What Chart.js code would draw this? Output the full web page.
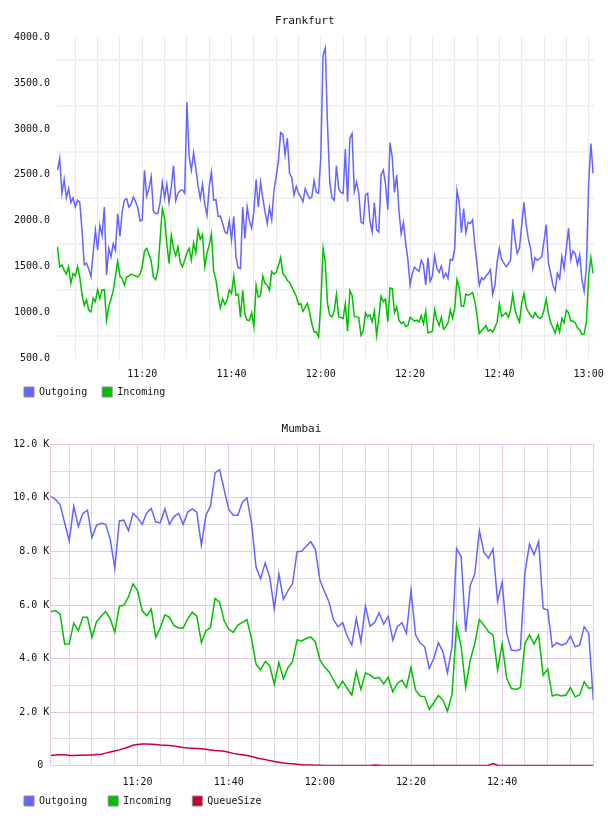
<!DOCTYPE html>
<html>
<head>
<meta charset="utf-8">
<script src="https://cdn.jsdelivr.net/npm/chart.js@4.4.1/dist/chart.umd.min.js"></script>
<style>
  html, body { margin: 0; padding: 0; background: #fff; }
  #wrap { position: relative; width: 608px; height: 816px; }
  canvas { position: absolute; left: 0; }
</style>
</head>
<body>
<div id="wrap">
  <canvas id="fra" width="608" height="407" style="top:0"></canvas>
  <canvas id="bom" width="608" height="408" style="top:408px"></canvas>
</div>
<script>
// Frankfurt: one sample every 30 s from 11:01 (minutes after 11:00)
const fraStart = 1;
const fraStep = 0.5;
const fraOutgoing = [
  2552, 2680, 2300, 2450, 2250, 2350, 2200, 2250, 2150, 2225,
  2200, 1900, 1520, 1540, 1480, 1390, 1650, 1900, 1680, 1950,
  1840, 2150, 1410, 1700, 1610, 1750, 1680, 2080, 1830, 2100,
  2225, 2240, 2150, 2180, 2260, 2210, 2140, 2000, 2010, 2550,
  2270, 2350, 2480, 2100, 2080, 2080, 2200, 2420, 2250, 2400,
  2200, 2370, 2600, 2220, 2300, 2330, 2334, 2300, 3290, 2700,
  2552, 2740, 2570, 2380, 2243, 2400, 2180, 2062, 2371, 2530,
  2225, 2230, 2050, 2050, 1971, 1880, 1860, 2000, 1790, 2050,
  1608, 1490, 1480, 2150, 1808, 2150, 2000, 1920, 2100, 2450,
  2150, 2420, 2250, 2100, 1971, 2150, 2010, 2330, 2480, 2650,
  2960, 2940, 2716, 2900, 2516, 2470, 2280, 2375, 2300, 2262,
  2207, 2350, 2290, 2243, 2260, 2440, 2310, 2298, 2700, 3800,
  3880, 3050, 2420, 2250, 2225, 2600, 2350, 2310, 2298, 2780,
  2207, 2900, 2950, 2320, 2420, 2300, 1990, 1971, 2280, 2300,
  2000, 1880, 2200, 1900, 1880, 2500, 2552, 2400, 2120, 2850,
  2690, 2310, 2500, 2120, 1860, 1980, 1760, 1580, 1300, 1430,
  1495, 1470, 1450, 1570, 1520, 1300, 1600, 1340, 1400, 1620,
  1485, 1440, 1510, 1380, 1430, 1375, 1580, 1572, 1700, 2330,
  2200, 1870, 2130, 1870, 1985, 1970, 2010, 1740, 1520, 1300,
  1380, 1360, 1400, 1427, 1470, 1200, 1300, 1550, 1700, 1580,
  1540, 1500, 1530, 1570, 2020, 1800, 1645, 1700, 1950, 2200,
  1960, 1800, 1695, 1480, 1600, 1570, 1590, 1608, 1780, 1960,
  1540, 1425, 1300, 1240, 1430, 1370, 1610, 1480, 1700, 1920,
  1580, 1670, 1640, 1520, 1630, 1360, 1235, 1500, 2400, 2840,
  2516
];
const fraIncoming = [
  1717, 1500, 1520, 1463, 1420, 1500, 1320, 1427, 1400, 1500,
  1390, 1200, 1080, 1140, 1030, 1010, 1160, 1120, 1250, 1155,
  1250, 1250, 919, 1070, 1150, 1240, 1400, 1560, 1400, 1372,
  1300, 1390, 1400, 1420, 1409, 1400, 1390, 1420, 1500, 1670,
  1700, 1640, 1560, 1390, 1360, 1460, 1800, 2130, 2030, 1753,
  1536, 1840, 1700, 1620, 1717, 1550, 1500, 1572, 1650, 1700,
  1572, 1760, 1650, 1900, 1800, 1850, 1500, 1650, 1735, 1860,
  1450, 1360, 1180, 1050, 1150, 1090, 1137, 1250, 1209, 1400,
  1190, 1200, 950, 1245, 980, 920, 915, 1000, 850, 1300,
  1170, 1185, 1400, 1318, 1300, 1245, 1450, 1420, 1440, 1510,
  1600, 1420, 1400, 1350, 1330, 1280, 1230, 1180, 1090, 1100,
  1015, 1060, 1100, 1000, 880, 790, 792, 737, 1100, 1700,
  1550, 1100, 975, 955, 1020, 1200, 955, 950, 937, 1100,
  800, 1240, 1190, 960, 955, 950, 755, 800, 1000, 955,
  980, 900, 1020, 755, 950, 1180, 1119, 1150, 900, 1270,
  1264, 1000, 1064, 920, 883, 900, 850, 860, 950, 930,
  910, 920, 900, 970, 880, 1020, 780, 790, 800, 1030,
  925, 860, 950, 820, 845, 890, 1030, 940, 1050, 1360,
  1270, 1070, 1070, 1200, 1190, 1200, 1220, 1130, 970, 775,
  805, 828, 860, 800, 815, 790, 840, 900, 1100, 960,
  980, 1000, 950, 1028, 1200, 1030, 955, 900, 1100, 1209,
  1060, 1010, 975, 945, 1000, 960, 940, 950, 1030, 1150,
  990, 890, 840, 780, 880, 790, 940, 890, 1030, 1000,
  910, 910, 890, 835, 815, 765, 770, 900, 1400, 1600,
  1427
];

// Mumbai: one sample per minute from 11:01
const bomStart = 1;
const bomStep = 1;
const bomOutgoing = [
  10050, 9940, 9750, 9070, 8400, 9690, 8930, 9420, 9540, 8520,
  8980, 9050, 9010, 8460, 7370, 9140, 9170, 8770, 9420, 9260,
  9010, 9440, 9600, 9100, 9070, 9590, 9010, 9300, 9420, 9010,
  9470, 9590, 9470, 8230, 9350, 9690, 10930, 11050, 10310, 9570,
  9350, 9350, 9840, 10000, 9070, 7410, 6980, 7570, 7040, 5850,
  7160, 6210, 6540, 6790, 7990, 8010, 8190, 8360, 8090, 6930,
  6510, 6110, 5440, 5190, 5340, 4840, 4500, 5500, 4630, 5960,
  5210, 5340, 5710, 5290, 5580, 4690, 5190, 5340, 4940, 6540,
  4880, 4590, 4440, 3630, 4000, 4590, 4250, 3470, 4440, 8110,
  7800, 5000, 6730, 7160, 8770, 7960, 7750, 8090, 6140, 6850,
  4940, 4320, 4290, 4340, 7220, 8270, 7880, 8370, 5870, 5810,
  4440, 4590, 4500, 4560, 4840, 4440, 4500, 5190, 4940, 2450
];
const bomIncoming = [
  5750, 5790, 5660, 4540, 4540, 5330, 5040, 5540, 5540, 4790,
  5380, 5580, 5760, 5480, 4980, 5950, 6000, 6300, 6790, 6540,
  5790, 5600, 5850, 4790, 5160, 5630, 5540, 5230, 5140, 5140,
  5480, 5730, 5580, 4600, 5040, 5160, 6250, 6110, 5410, 5100,
  4980, 5250, 5350, 5450, 4750, 3790, 3580, 3890, 3730, 3040,
  3850, 3250, 3660, 3880, 4700, 4660, 4750, 4810, 4630, 3960,
  3690, 3510, 3200, 2890, 3160, 2890, 2640, 3510, 2850, 3470,
  3380, 3260, 3300, 3050, 3300, 2760, 3070, 3200, 2920, 3670,
  2820, 2600, 2570, 2100, 2350, 2620, 2450, 2040, 2670, 5250,
  4440, 2920, 3940, 4560, 5460, 5250, 5000, 4880, 3570, 4540,
  3260, 2890, 2850, 2920, 4560, 4880, 4540, 4880, 3380, 3610,
  2600, 2660, 2600, 2640, 2920, 2570, 2640, 3130, 2890, 2920
];
const bomQueue = [
  380, 400, 410, 410, 380, 380, 390, 390, 400, 400,
  420, 430, 470, 510, 550, 590, 640, 700, 760, 790,
  810, 810, 800, 790, 770, 760, 750, 740, 710, 680,
  660, 650, 640, 630, 610, 590, 570, 560, 540, 500,
  460, 430, 410, 380, 340, 300, 260, 230, 190, 160,
  130, 100, 80, 70, 50, 40, 30, 30, 20, 20,
  10, 10, 10, 10, 10, 10, 10, 10, 10, 10,
  10, 30, 20, 10, 10, 10, 10, 10, 10, 10,
  10, 10, 10, 10, 10, 10, 10, 10, 10, 10,
  10, 10, 10, 10, 10, 10, 20, 80, 20, 10,
  10, 10, 10, 10, 10, 10, 10, 10, 10, 10,
  10, 10, 10, 10, 10, 10, 10, 10, 10, 10
];

const BLUE = '#6464ff';
const GREEN = '#00c000';
const RED = '#c80032';

Chart.defaults.font.family = "'DejaVu Sans Mono', monospace";
Chart.defaults.font.size = 10;
Chart.defaults.color = '#222';

const toPoints = (values, start, step) => values.map((v, i) => ({ x: start + i * step, y: v }));
const hhmm = m => (11 + Math.floor(m / 60)) + ':' + String(m % 60).padStart(2, '0');

function line(label, color, values, start, step) {
  return {
    label: label,
    data: toPoints(values, start, step),
    borderColor: color,
    backgroundColor: color,
    borderWidth: 1.5,
    pointRadius: 0,
    tension: 0
  };
}

function legendOpts(gap) {
  return {
    position: 'bottom',
    align: 'start',
    labels: {
      boxWidth: 10,
      boxHeight: 10,
      padding: gap,
      color: '#111',
      generateLabels: chart => Chart.defaults.plugins.legend.labels.generateLabels(chart)
        .map(l => Object.assign(l, { strokeStyle: '#8c8c8c', lineWidth: 1 }))
    }
  };
}

function timeAxis(min, max, opts) {
  return {
    type: 'linear',
    bounds: 'data',
    min: min,
    max: max,
    afterBuildTicks: s => {
      const t = [];
      for (let v = Math.ceil(s.min / 5) * 5; v <= s.max; v += 5) t.push({ value: v });
      s.ticks = t;
    },
    afterFit: s => {
      s.height = opts.height;
      s.paddingLeft = 0;
      s.paddingRight = 0;
      // the labels sit lower than this short axis box; do not clip them to it
      s._computeLabelArea = () => undefined;
    },
    ticks: {
      autoSkip: false, maxRotation: 0, minRotation: 0, padding: opts.pad, color: '#111',
      callback: v => (v % 20 === 0 && v !== opts.hide) ? hhmm(v) : ''
    },
    grid: { drawTicks: false, color: opts.gridColor, lineWidth: 1 },
    border: { display: false }
  };
}

// Frankfurt
new Chart(document.getElementById('fra'), {
  type: 'line',
  data: {
    datasets: [
      line('Outgoing', BLUE, fraOutgoing, fraStart, fraStep),
      line('Incoming', GREEN, fraIncoming, fraStart, fraStep)
    ]
  },
  options: {
    responsive: false,
    animation: false,
    layout: { padding: { left: 9, right: 14, top: 0, bottom: 0 } },
    plugins: {
      title: { display: true, text: ' Frankfurt', color: '#111', font: { size: 11, weight: 'normal' }, padding: { top: 14.3, bottom: 9.5 } },
      legend: legendOpts(15),
      tooltip: { enabled: false }
    },
    scales: {
      x: timeAxis(0.9, 121.2, { height: 13.3, pad: 10, hide: null, gridColor: '#e8e8e8' }),
      y: {
        min: 500, max: 4000,
        afterFit: s => { s.width = 48; s.paddingTop = 0; s.paddingBottom = 0; },
        ticks: { stepSize: 500, padding: 7, color: '#111', callback: v => v.toFixed(1) },
        grid: { offset: true, drawTicks: false, color: '#f1f1f1', lineWidth: 2 },
        border: { display: false }
      }
    }
  }
});

// Mumbai
const PINK = '#e4c8e4';
const GREY = '#dcdcdc';
new Chart(document.getElementById('bom'), {
  type: 'line',
  data: {
    datasets: [
      line('Outgoing', BLUE, bomOutgoing, bomStart, bomStep),
      line('Incoming', GREEN, bomIncoming, bomStart, bomStep),
      line('QueueSize', RED, bomQueue, bomStart, bomStep)
    ]
  },
  options: {
    responsive: false,
    animation: false,
    layout: { padding: { left: 3, right: 14.7, top: 0, bottom: 0 } },
    plugins: {
      title: { display: true, text: ' Mumbai', color: '#111', font: { size: 11, weight: 'normal' }, padding: { top: 14.4, bottom: 8.7 } },
      legend: legendOpts(21),
      tooltip: { enabled: false }
    },
    scales: {
      x: timeAxis(0.85, 120, { height: 9.3, pad: 11, hide: 120,
        gridColor: c => (c.tick && c.tick.value % 20 === 0) ? PINK : GREY }),
      y: {
        min: 0, max: 12000,
        afterFit: s => { s.width = 47.3; s.paddingTop = 0; s.paddingBottom = 0; },
        ticks: {
          stepSize: 1000, padding: 1, color: '#111',
          callback: v => v === 0 ? '0 ' : (v % 2000 === 0 ? (v / 1000).toFixed(1) + ' K' : '')
        },
        grid: { drawTicks: false, color: c => (c.tick && c.tick.value % 2000 === 0) ? PINK : GREY },
        border: { display: true, color: PINK }
      }
    }
  }
});
</script>
</body>
</html>
